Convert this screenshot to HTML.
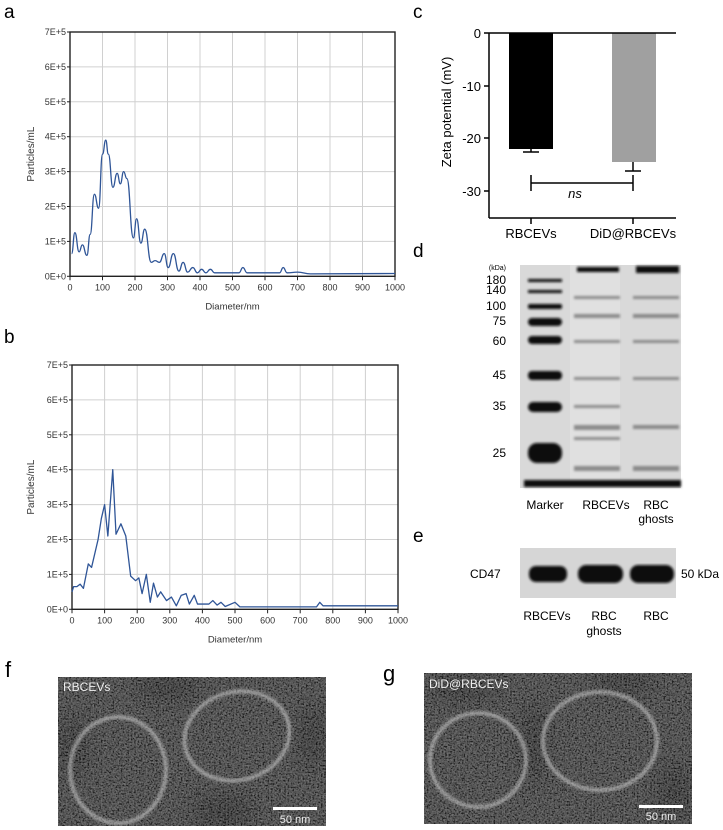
<!DOCTYPE html>
<html><head><meta charset="utf-8"><style>
html,body{margin:0;padding:0;background:#fff;}
svg{display:block;font-family:"Liberation Sans",Arial,sans-serif;}
</style></head><body>
<svg id="s" width="723" height="830" viewBox="0 0 723 830" xmlns="http://www.w3.org/2000/svg">
<defs>
<filter id="noise" x="0" y="0" width="100%" height="100%">
<feTurbulence type="fractalNoise" baseFrequency="0.6" numOctaves="2" seed="3" result="n"/>
<feColorMatrix in="n" type="matrix" values="0.33 0.33 0.33 0 0  0.33 0.33 0.33 0 0  0.33 0.33 0.33 0 0  0 0 0 0 1" result="g"/>
<feComponentTransfer in="g"><feFuncR type="linear" slope="1.8" intercept="-0.7"/><feFuncG type="linear" slope="1.8" intercept="-0.7"/><feFuncB type="linear" slope="1.8" intercept="-0.7"/><feFuncA type="linear" slope="0" intercept="0.45"/></feComponentTransfer>
</filter>
<filter id="bl"><feGaussianBlur stdDeviation="1.2"/></filter>
<filter id="bl6"><feGaussianBlur stdDeviation="8"/></filter>
</defs>
<g id="charts"></g>

<!-- panel c -->
<text x="413" y="18" font-size="19">c</text>
<rect x="509" y="33" width="44" height="116" fill="#000"/>
<rect x="612" y="33" width="44" height="129" fill="#a0a0a0"/>
<g stroke="#000" stroke-width="1.5" fill="none">
<line x1="531" y1="149" x2="531" y2="152"/><line x1="523" y1="152" x2="539" y2="152"/>
<line x1="633" y1="162" x2="633" y2="171"/><line x1="625" y1="171" x2="641" y2="171"/>
<line x1="489" y1="33" x2="676" y2="33"/>
<line x1="489" y1="33" x2="489" y2="218"/><line x1="489" y1="218" x2="676" y2="218"/>
<line x1="484" y1="33" x2="489" y2="33"/><line x1="484" y1="86" x2="489" y2="86"/><line x1="484" y1="138" x2="489" y2="138"/><line x1="484" y1="191" x2="489" y2="191"/>
<line x1="531" y1="218" x2="531" y2="224"/><line x1="633" y1="218" x2="633" y2="224"/>
<line x1="531" y1="183" x2="633" y2="183"/><line x1="531" y1="175" x2="531" y2="191"/><line x1="633" y1="175" x2="633" y2="191"/>
</g>
<g font-size="13" text-anchor="end"><text x="481" y="38">0</text><text x="481" y="91">-10</text><text x="481" y="143">-20</text><text x="481" y="196">-30</text></g>
<text x="575" y="198" font-size="13" font-style="italic" text-anchor="middle">ns</text>
<text x="531" y="238" font-size="13" text-anchor="middle">RBCEVs</text>
<text x="633" y="238" font-size="13" text-anchor="middle">DiD@RBCEVs</text>
<text transform="translate(451,112) rotate(-90)" font-size="13" text-anchor="middle">Zeta potential (mV)</text>

<!-- panel d -->
<text x="413" y="257" font-size="19">d</text>
<rect x="520" y="265" width="161" height="223" fill="#d9d9d9"/>
<rect x="570" y="265" width="50" height="223" fill="#e0e0e0"/>
<g fill="#111" filter="url(#bl)">
<rect x="528" y="279" width="34" height="3"/><rect x="528" y="290" width="34" height="3"/>
<rect x="528" y="304" width="34" height="5" rx="2"/><rect x="528" y="318" width="34" height="8" rx="4"/>
<rect x="528" y="336" width="34" height="8" rx="4"/><rect x="528" y="371" width="34" height="9" rx="4"/>
<rect x="528" y="402" width="34" height="10" rx="5"/><rect x="528" y="443" width="34" height="20" rx="9"/>
<rect x="524" y="480" width="157" height="7"/>
<rect x="577" y="267" width="42" height="5"/><rect x="636" y="266" width="43" height="7"/>
</g>
<g fill="#555" opacity="0.6" filter="url(#bl)">
<rect x="574" y="296" width="46" height="3"/><rect x="633" y="296" width="46" height="3"/>
<rect x="574" y="314" width="46" height="4"/><rect x="633" y="314" width="46" height="4"/>
<rect x="574" y="340" width="46" height="3"/><rect x="633" y="340" width="46" height="3"/>
<rect x="574" y="377" width="46" height="3"/><rect x="633" y="377" width="46" height="3"/>
<rect x="574" y="425" width="46" height="5"/><rect x="633" y="425" width="46" height="4"/>
<rect x="574" y="466" width="46" height="5"/><rect x="633" y="466" width="46" height="5"/>
<rect x="574" y="405" width="46" height="3"/><rect x="574" y="437" width="46" height="3"/>
</g>
<g font-size="12" text-anchor="end"><text x="506" y="270" font-size="7">(kDa)</text>
<text x="506" y="284">180</text><text x="506" y="294">140</text><text x="506" y="310">100</text><text x="506" y="325">75</text><text x="506" y="345">60</text><text x="506" y="379">45</text><text x="506" y="410">35</text><text x="506" y="457">25</text></g>
<g font-size="12" text-anchor="middle"><text x="545" y="509">Marker</text><text x="606" y="509">RBCEVs</text><text x="656" y="509">RBC</text><text x="656" y="523">ghosts</text></g>

<!-- panel e -->
<text x="413" y="542" font-size="19">e</text>
<rect x="520" y="548" width="156" height="50" fill="#d6d6d6"/>
<g fill="#111" filter="url(#bl)">
<rect x="529" y="566" width="38" height="16" rx="7"/><rect x="578" y="565" width="45" height="18" rx="8"/><rect x="630" y="565" width="44" height="18" rx="8"/>
</g>
<text x="470" y="578" font-size="12">CD47</text>
<text x="681" y="578" font-size="12">50 kDa</text>
<g font-size="12" text-anchor="middle"><text x="547" y="620">RBCEVs</text><text x="604" y="620">RBC</text><text x="604" y="635">ghosts</text><text x="656" y="620">RBC</text></g>

<!-- panel f -->
<text x="5" y="677" font-size="22">f</text>
<svg x="58" y="677" width="268" height="149" overflow="hidden">
<rect width="268" height="149" fill="#3a3a3a"/>
<g fill="#151515" opacity="0.7" filter="url(#bl6)">
<ellipse cx="110" cy="10" rx="30" ry="14"/><ellipse cx="15" cy="70" rx="14" ry="30"/><ellipse cx="165" cy="135" rx="30" ry="18"/><ellipse cx="255" cy="60" rx="14" ry="30"/>
</g>
<rect width="268" height="149" filter="url(#noise)"/>
<g fill="none" stroke="#c8c8c8" stroke-width="4" opacity="0.6" filter="url(#bl)">
<ellipse cx="60" cy="93" rx="48" ry="53"/>
<ellipse cx="179" cy="59" rx="53" ry="44" transform="rotate(-15 179 59)"/>
</g>
</svg>
<text x="63" y="691" font-size="12" fill="#eee">RBCEVs</text>
<rect x="273" y="807" width="44" height="3" fill="#fff"/>
<text x="295" y="823" font-size="11" fill="#eee" text-anchor="middle">50 nm</text>

<!-- panel g -->
<text x="383" y="681" font-size="22">g</text>
<svg x="424" y="673" width="268" height="151" overflow="hidden">
<rect width="268" height="151" fill="#3a3a3a"/>
<g fill="#151515" opacity="0.7" filter="url(#bl6)">
<ellipse cx="110" cy="70" rx="12" ry="40"/><ellipse cx="40" cy="15" rx="35" ry="12"/><ellipse cx="250" cy="120" rx="16" ry="30"/><ellipse cx="200" cy="10" rx="30" ry="10"/>
</g>
<rect width="268" height="151" filter="url(#noise)"/>
<g fill="none" stroke="#c8c8c8" stroke-width="4" opacity="0.6" filter="url(#bl)">
<ellipse cx="54" cy="87" rx="48" ry="47"/>
<ellipse cx="176" cy="68" rx="57" ry="49"/>
</g>
</svg>
<text x="429" y="688" font-size="12" fill="#eee">DiD@RBCEVs</text>
<rect x="639" y="805" width="44" height="3" fill="#fff"/>
<text x="661" y="820" font-size="11" fill="#eee" text-anchor="middle">50 nm</text>
</svg>
<script>
(function(){
var NS="http://www.w3.org/2000/svg",g=document.getElementById("charts");
function el(t,a,txt){var e=document.createElementNS(NS,t);for(var k in a)e.setAttribute(k,a[k]);if(txt!=null)e.textContent=txt;g.appendChild(e);return e;}
function chart(yt,x0,x1,label,ly,pts,smooth){
 var sy=34.9,yb=yt+7*sy,sx=(x1-x0)/1000;
 el("text",{x:4,y:ly,"font-size":19},label);
 for(var i=1;i<=10;i++){var x=x0+i*100*sx;el("line",{x1:x,y1:yt,x2:x,y2:yb,stroke:"#d0d0d0","stroke-width":1});}
 for(var j=1;j<=7;j++){var y=yb-j*sy;el("line",{x1:x0,y1:y,x2:x1,y2:y,stroke:"#d0d0d0","stroke-width":1});}
 el("rect",{x:x0,y:yt,width:x1-x0,height:yb-yt,fill:"none",stroke:"#222","stroke-width":1.4});
 for(var j=0;j<=7;j++){var y=yb-j*sy;el("line",{x1:x0-3,y1:y,x2:x0,y2:y,stroke:"#222"});el("text",{x:x0-4,y:y+3,"font-size":9,"text-anchor":"end",fill:"#333"},j+"E+"+(j?5:0));}
 for(var i=0;i<=10;i++){var x=x0+i*100*sx;el("line",{x1:x,y1:yb,x2:x,y2:yb+4,stroke:"#222"});el("text",{x:x,y:yb+14,"font-size":9,"text-anchor":"middle",fill:"#333"},i*100);}
 el("text",{x:(x0+x1)/2,y:yb+33,"font-size":9.5,"text-anchor":"middle",fill:"#333"},"Diameter/nm");
 el("text",{transform:"translate(34,"+(yt+yb)/2+") rotate(-90)","font-size":10,"text-anchor":"middle",fill:"#333"},"Particles/mL");
 var P=pts.map(function(p){return [x0+p[0]*sx,yb-p[1]*sy];});
 var d="M"+P[0][0]+","+P[0][1];
 for(var k=1;k<P.length;k++){var a=P[k-1],b=P[k],mx=(a[0]+b[0])/2;
  d+= smooth?(" C"+mx+","+a[1]+" "+mx+","+b[1]+" "+b[0]+","+b[1]):(" L"+b[0]+","+b[1]);}
 el("path",{d:d,fill:"none",stroke:"#2f5597","stroke-width":1.3,"stroke-linejoin":"round"});
}
chart(32,70,395,"a",18,[[5,0.65],[15,1.25],[28,0.7],[38,0.9],[52,0.6],[62,1.2],[75,2.35],[88,1.95],[100,3.5],[110,3.9],[118,3.5],[132,2.55],[145,2.95],[155,2.65],[165,3.0],[175,2.8],[195,1.1],[205,1.65],[218,0.95],[230,1.35],[250,0.4],[262,0.45],[275,0.4],[290,0.65],[302,0.25],[318,0.65],[335,0.15],[348,0.4],[362,0.12],[378,0.25],[392,0.1],[405,0.2],[418,0.1],[432,0.2],[445,0.1],[520,0.1],[532,0.25],[545,0.1],[645,0.1],[656,0.25],[668,0.1],[700,0.12],[740,0.07],[1000,0.08]],true);
chart(365,72,398,"b",343,[[0,0.5],[5,0.65],[15,0.65],[25,0.72],[35,0.6],[50,1.3],[60,1.2],[80,2.0],[90,2.6],[100,3.0],[110,2.1],[125,4.0],[135,2.15],[150,2.45],[165,2.1],[180,0.95],[195,0.82],[205,0.9],[215,0.45],[228,1.0],[240,0.2],[250,0.75],[262,0.35],[272,0.5],[290,0.25],[305,0.35],[320,0.1],[335,0.4],[350,0.45],[360,0.15],[375,0.4],[385,0.15],[420,0.15],[432,0.25],[445,0.12],[457,0.2],[470,0.08],[500,0.2],[515,0.07],[750,0.07],[760,0.2],[770,0.1],[1000,0.1]],false);
})();
</script>
</body></html>
